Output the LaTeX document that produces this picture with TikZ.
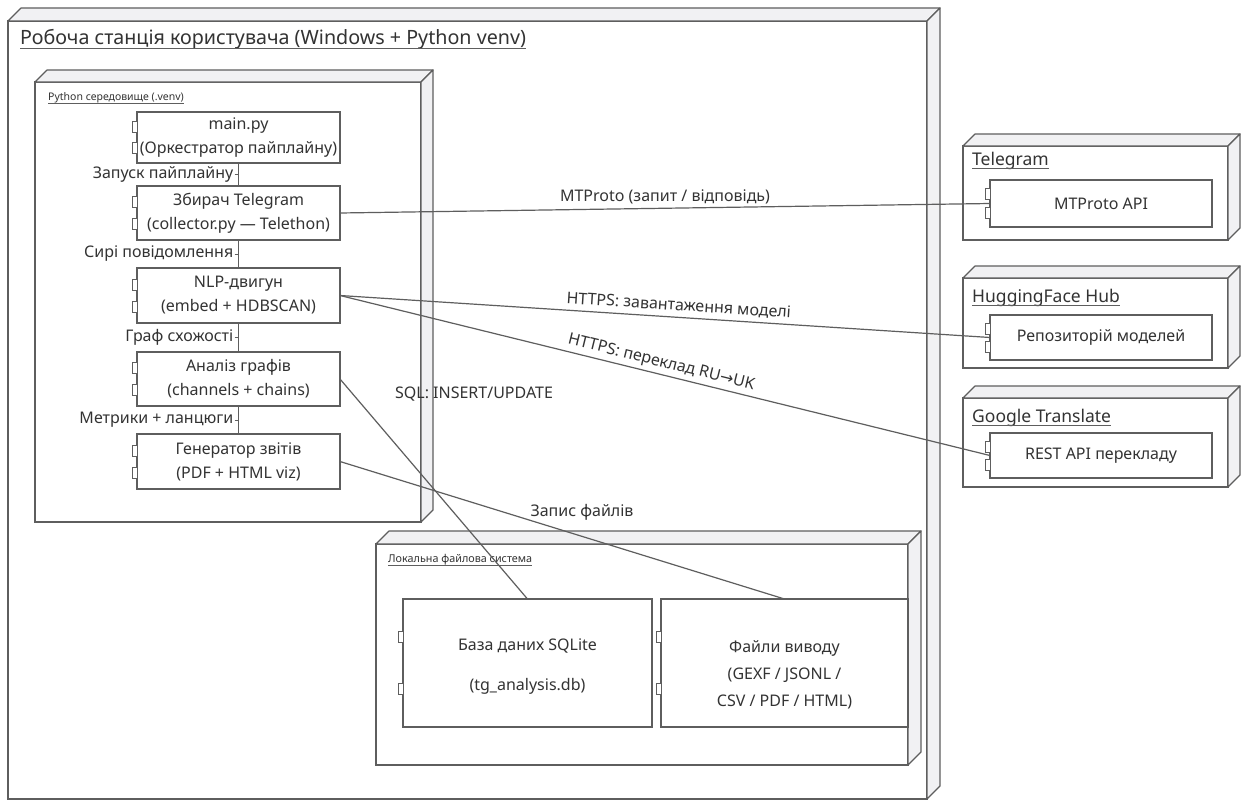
\documentclass[tikz,border=0pt]{standalone}
\usepackage{fontspec}
\setmainfont{Noto Sans}
\newfontfamily\dvfont{DejaVu Sans}
\usetikzlibrary{calc}
\definecolor{lnc}{HTML}{5E5E5E}
\definecolor{facec}{HTML}{F1F1F3}
\definecolor{txtc}{HTML}{333333}
\tikzset{
  frontbox/.style={draw=lnc, line width=1.2pt, fill=white, inner sep=0pt, outer sep=0pt, anchor=north west},
  sideface/.style={draw=lnc, line width=1.2pt, fill=facec, line join=round},
  comp/.style={draw=lnc, line width=1.1pt, fill=white, inner sep=0pt, outer sep=0pt, anchor=north west,
    align=center, text=txtc, font=\fontsize{16}{24}\selectfont},
  comptxt/.style={align=center, text=txtc, inner sep=0pt, font=\fontsize{16}{24}\selectfont},
  portbox/.style={draw=lnc, line width=0.9pt, fill=white},
  conn/.style={draw=lnc, line width=1.2pt},
  lbl/.style={text=txtc, inner sep=1pt, font=\fontsize{16}{19}\selectfont},
}
\newcommand{\faces}[2]{%
  \draw[sideface] (#1.north west) -- ++(#2,-#2) -- ($(#1.north east)+(#2,-#2)$) -- (#1.north east) -- cycle;
  \draw[sideface] (#1.north east) -- ++(#2,-#2) -- ($(#1.south east)+(#2,-#2)$) -- (#1.south east) -- cycle;}
\newcommand{\ports}[1]{%
  \draw[portbox] ($(#1.north west)!0.3!(#1.south west)+(-5,-5.5)$) rectangle ++(5,11);
  \draw[portbox] ($(#1.north west)!0.7!(#1.south west)+(-5,-5.5)$) rectangle ++(5,11);}
\newcommand{\ulabel}[4]{%
  \node[anchor=base west, inner sep=0pt, text=txtc, font=#3] (#1) at (#2) {#4};
  \draw[lnc, line width=0.8pt] ($(#1.base west)+(0,3)$) -- ($(#1.base east)+(0,3)$);}
\begin{document}
\begin{tikzpicture}[x=1pt,y=-1pt]
\useasboundingbox (0,0) rectangle (1244,800);
\fill[white] (0,0) rectangle (1244,800);

% outer workstation node
\node[frontbox, minimum width=919, minimum height=778] (ws) at (8,21) {};
\faces{ws}{13}
\ulabel{wst}{20,45}{\fontsize{19.7}{23}\selectfont}{Робоча станція користувача (Windows + Python venv)}

% python env node
\node[frontbox, minimum width=386, minimum height=440] (py) at (35,82) {};
\faces{py}{12}
\ulabel{pyt}{48,100}{\fontsize{10.5}{12}\selectfont}{Python середовище (.venv)}

% local file system node
\node[frontbox, minimum width=532, minimum height=221] (fs) at (376,544) {};
\faces{fs}{13}
\ulabel{fst}{388,562}{\fontsize{10.8}{12}\selectfont}{Локальна файлова система}

% right external nodes
\node[frontbox, minimum width=265, minimum height=94] (tg) at (963,146) {};
\faces{tg}{12}
\ulabel{tgt}{972,165}{\fontsize{17.5}{20}\selectfont}{Telegram}
\node[frontbox, minimum width=265, minimum height=90] (hf) at (963,278) {};
\faces{hf}{12}
\ulabel{hft}{972,302}{\fontsize{17.5}{20}\selectfont}{HuggingFace Hub}
\node[frontbox, minimum width=265, minimum height=89] (gt) at (963,398) {};
\faces{gt}{12}
\ulabel{gtt}{972,422}{\fontsize{17.5}{20}\selectfont}{Google Translate}

% components in python env
\node[comp, minimum width=203, minimum height=51] (main) at (137,112) {main.py\\(Оркестратор пайплайну)};
\node[comp, minimum width=203, minimum height=54] (coll) at (137,186) {Збирач Telegram\\(collector.py — Telethon)};
\node[comp, minimum width=203, minimum height=55] (nlp) at (137,268) {NLP-двигун\\(embed + HDBSCAN)};
\node[comp, minimum width=203, minimum height=54] (graph) at (137,352) {Аналіз графів\\(channels + chains)};
\node[comp, minimum width=203, minimum height=55] (gen) at (137,434) {Генератор звітів\\(PDF + HTML viz)};
\ports{main}\ports{coll}\ports{nlp}\ports{graph}\ports{gen}

% external components
\node[comp, minimum width=222, minimum height=47] (mtp) at (990,180) {MTProto API};
\node[comp, minimum width=222, minimum height=45] (hfr) at (990,315) {Репозиторій моделей};
\node[comp, minimum width=222, minimum height=45] (gtr) at (990,433) {REST API перекладу};
\ports{mtp}\ports{hfr}\ports{gtr}

% file system components
\node[comp, minimum width=249, minimum height=128] (sqlite) at (403,599) {};
\node[comptxt] (sqlitet) at (527.5,667) {База даних SQLite\\[16pt](tg\_analysis.db)};
\node[comp, minimum width=247, minimum height=128] (files) at (661,599) {};
\node[comptxt, font=\fontsize{16}{27}\selectfont] (filest) at (784.5,675) {Файли виводу\\(GEXF / JSONL /\\CSV / PDF / HTML)};
\ports{sqlite}\ports{files}

% pipeline connectors
\draw[conn] (main.south) -- (coll.north) coordinate[midway] (m1);
\draw[conn] (coll.south) -- (nlp.north) coordinate[midway] (m2);
\draw[conn] (nlp.south) -- (graph.north) coordinate[midway] (m3);
\draw[conn] (graph.south) -- (gen.north) coordinate[midway] (m4);
\node[lbl, anchor=east] (l1) at ($(m1)+(-4,0)$) {Запуск пайплайну};
\node[lbl, anchor=east] (l2) at ($(m2)+(-4,0)$) {Сирі повідомлення};
\node[lbl, anchor=east] (l3) at ($(m3)+(-4,0)$) {Граф схожості};
\node[lbl, anchor=east] (l4) at ($(m4)+(-4,0)$) {Метрики + ланцюги};
\draw[conn, line width=1pt] (l1.east) -- (m1);
\draw[conn, line width=1pt] (l2.east) -- (m2);
\draw[conn, line width=1pt] (l3.east) -- (m3);
\draw[conn, line width=1pt] (l4.east) -- (m4);

% external connectors
\draw[conn] (coll.east) -- node[lbl, above=3pt, pos=0.5] (e1) {MTProto (запит / відповідь)} (mtp.west);
\draw[conn] (nlp.east) -- node[lbl, above=3pt, sloped, pos=0.52] (e2) {HTTPS: завантаження моделі} (hfr.west);
\draw[conn] (nlp.east) -- node[lbl, above=2pt, sloped, pos=0.49] (e3) {HTTPS: переклад RU{\dvfont →}UK} (gtr.west);
\draw[conn] (graph.east) -- (sqlite.north);
\node[lbl] (e4) at (474,394) {SQL: INSERT/UPDATE};
\draw[conn] (gen.east) -- (files.north);
\node[lbl] (e5) at (582,512) {Запис файлів};
\end{tikzpicture}
\end{document}
